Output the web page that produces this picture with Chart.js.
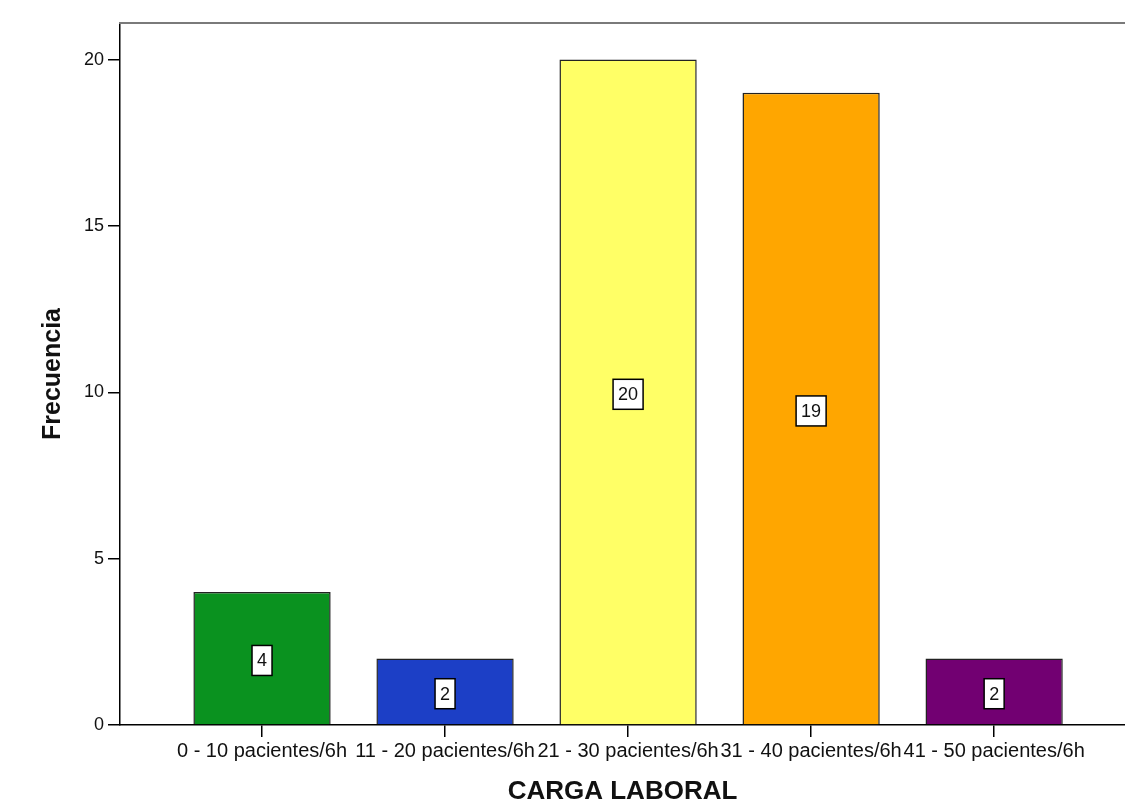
<!DOCTYPE html>
<html>
<head>
<meta charset="utf-8">
<script src="https://cdn.jsdelivr.net/npm/chart.js@4/dist/chart.umd.min.js"></script>
<style>
  html, body { margin: 0; padding: 0; background: #fff; }
  #wrap { width: 1125px; height: 801px; }
</style>
</head>
<body>
<div id="wrap"><canvas id="cargaChart"></canvas></div>
<script>
const categories = ['0 - 10 pacientes/6h', '11 - 20 pacientes/6h', '21 - 30 pacientes/6h', '31 - 40 pacientes/6h', '41 - 50 pacientes/6h'];
const frecuencia = [4, 2, 20, 19, 2];
const barColors = ['#0a921f', '#1c3fc6', '#ffff66', '#ffa600', '#720072'];
const yTicks = [0, 5, 10, 15, 20];

// white boxes with the count, centred at half the bar height
const valueBoxes = {
    id: 'valueBoxes',
    afterDatasetsDraw(chart) {
        const ctx = chart.ctx;
        const meta = chart.getDatasetMeta(0);
        const yScale = chart.scales.y;
        ctx.save();
        ctx.font = '18px "Liberation Sans", Arial, sans-serif';
        ctx.textAlign = 'center';
        ctx.textBaseline = 'middle';
        meta.data.forEach((bar, i) => {
            const v = frecuencia[i];
            const cy = yScale.getPixelForValue(v / 2) + 2;
            const txt = String(v);
            const w = ctx.measureText(txt).width + 10;
            const h = 30;
            ctx.fillStyle = '#fff';
            ctx.fillRect(bar.x - w / 2, cy - h / 2, w, h);
            ctx.strokeStyle = '#000';
            ctx.lineWidth = 1.5;
            ctx.strokeRect(bar.x - w / 2, cy - h / 2, w, h);
            ctx.fillStyle = '#111';
            ctx.fillText(txt, bar.x, cy + 1);
        });
        ctx.restore();
    }
};

// grey frame line along the top
const topLine = {
    id: 'topLine',
    afterDraw(chart) {
        const a = chart.chartArea;
        const ctx = chart.ctx;
        ctx.save();
        ctx.strokeStyle = '#7a7a7a';
        ctx.lineWidth = 2;
        ctx.beginPath();
        ctx.moveTo(a.left - 1, a.top);
        ctx.lineTo(chart.width, a.top);
        ctx.stroke();
        ctx.restore();
    }
};

document.addEventListener('DOMContentLoaded', function() {
    const ctx = document.getElementById('cargaChart').getContext('2d');
    new Chart(ctx, {
        type: 'bar',
        data: {
            datasets: [{
                data: frecuencia.map((v, i) => ({ x: i + 1, y: v })),
                backgroundColor: barColors,
                borderColor: '#222',
                borderWidth: 1.5,
                categoryPercentage: 1,
                barPercentage: 0.75
            }]
        },
        options: {
            responsive: true,
            maintainAspectRatio: false,
            animation: false,
            layout: { padding: { top: 23, right: 0, left: 0, bottom: 0 } },
            plugins: {
                legend: { display: false },
                tooltip: { enabled: false }
            },
            scales: {
                x: {
                    type: 'linear',
                    offset: false,
                    min: 0.224,
                    max: 5.715,
                    afterBuildTicks: function(scale) {
                        scale.ticks = categories.map((c, i) => ({ value: i + 1 }));
                    },
                    afterFit: function(scale) { scale.height = 76; },
                    grid: {
                        offset: false,
                        drawOnChartArea: false,
                        drawTicks: true,
                        tickLength: 12,
                        color: '#000',
                        lineWidth: 1.5
                    },
                    border: { color: '#000', width: 1.5 },
                    ticks: {
                        autoSkip: false,
                        maxRotation: 0,
                        padding: 2,
                        color: '#111',
                        font: { family: '"Liberation Sans", Arial, sans-serif', size: 20 },
                        callback: function(value) { return categories[value - 1]; }
                    },
                    title: {
                        display: true,
                        text: 'CARGA LABORAL',
                        color: '#111',
                        padding: { top: 0, bottom: -6 },
                        font: { family: '"Liberation Sans", Arial, sans-serif', size: 26, weight: 'bold' }
                    }
                },
                y: {
                    min: 0,
                    max: 21.1,
                    afterBuildTicks: function(scale) {
                        scale.ticks = yTicks.map(v => ({ value: v }));
                    },
                    afterFit: function(scale) { scale.width = 120; },
                    grid: {
                        drawOnChartArea: false,
                        drawTicks: true,
                        tickLength: 12,
                        color: '#000',
                        lineWidth: 1.5
                    },
                    border: { color: '#000', width: 1.5 },
                    ticks: {
                        padding: 4,
                        color: '#111',
                        font: { family: '"Liberation Sans", Arial, sans-serif', size: 18 }
                    },
                    title: {
                        display: true,
                        text: 'Frecuencia',
                        color: '#111',
                        padding: { top: 38, bottom: 0 },
                        font: { family: '"Liberation Sans", Arial, sans-serif', size: 25, weight: 'bold' }
                    }
                }
            }
        },
        plugins: [valueBoxes, topLine]
    });
});
</script>
</body>
</html>
